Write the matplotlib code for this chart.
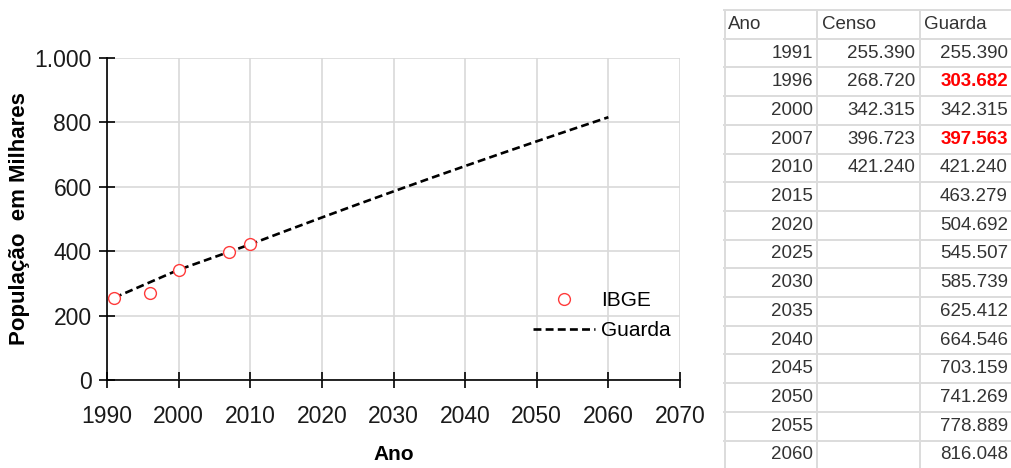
import matplotlib
matplotlib.use("Agg")
import matplotlib.pyplot as plt
from matplotlib.lines import Line2D

# ---- data ----
anos_censo = [1991, 1996, 2000, 2007, 2010]
censo = [255.390, 268.720, 342.315, 396.723, 421.240]

anos_guarda = [1991, 1996, 2000, 2007, 2010, 2015, 2020, 2025, 2030,
               2035, 2040, 2045, 2050, 2055, 2060]
guarda = [255.390, 303.682, 342.315, 397.563, 421.240, 463.279, 504.692,
          545.507, 585.739, 625.412, 664.546, 703.159, 741.269, 778.889, 816.048]
guarda_destaque = [1996, 2007]  # valores em vermelho na tabela

x_ticks = list(range(1990, 2071, 10))
y_ticks = [0, 200, 400, 600, 800, 1000]
y_labels = ["0", "200", "400", "600", "800", "1.000"]

plt.rcParams["font.family"] = ["Liberation Sans", "DejaVu Sans"]

fig = plt.figure(figsize=(10.11, 4.68), dpi=100)

# ---- grafico ----
ax = fig.add_axes([107 / 1011, 1 - 380 / 468, 573 / 1011, 322 / 468])
ax.plot(anos_guarda, guarda, color="black", linestyle=(0, (3, 1.6)),
        linewidth=1.9, label="Guarda", zorder=3)
ax.plot(anos_censo, censo, linestyle="none", marker="o", markersize=8.5,
        markerfacecolor="white", markeredgecolor="#ff3b3b", markeredgewidth=1.0,
        label="IBGE", zorder=4)

ax.set_xlim(1990, 2070)
ax.set_ylim(0, 1000)
ax.set_xticks(x_ticks)
ax.set_yticks(y_ticks)
ax.set_yticklabels(y_labels)
ax.grid(True, color="#d9d9d9", linewidth=1.2)
ax.set_axisbelow(True)
for s in ["top", "right"]:
    ax.spines[s].set_visible(False)
for s in ["left", "bottom"]:
    ax.spines[s].set_linewidth(1.2)
ax.tick_params(direction="inout", length=12, width=1.2, labelsize=16.5,
               labelcolor="#1a1a1a")
ax.tick_params(axis="x", pad=12)
ax.tick_params(axis="y", pad=5)
ax.set_xlabel("Ano", fontsize=15, fontweight="bold", labelpad=12)
ax.set_ylabel("População  em Milhares", fontsize=16, fontweight="bold", labelpad=3)

handles = [
    Line2D([], [], linestyle="none", marker="o", markersize=8.5,
           markerfacecolor="white", markeredgecolor="#ff3b3b", markeredgewidth=1.0),
    Line2D([], [], color="black", linestyle=(0, (3, 1.6)), linewidth=1.9),
]
ax.legend(handles, ["IBGE", "Guarda"], frameon=False, fontsize=15,
          loc="center left", bbox_to_anchor=(0.71, 0.20), handlelength=3.0,
          handletextpad=0.3, labelspacing=0.55)

# ---- tabela (coordenadas em pixels) ----
tb = fig.add_axes([722 / 1011, 0, 289 / 1011, 1])
tb.set_xlim(722, 1011)
tb.set_ylim(468, 0)
tb.axis("off")

row_h = 28.7
top = 10
n_rows = len(anos_guarda) + 1
line_c = "#dcdcdc"
for i in range(n_rows + 1):
    y = top + i * row_h
    tb.plot([724, 1011], [y, y], color=line_c, linewidth=1.4, clip_on=False)
for x in [725, 817, 920]:
    tb.plot([x, x], [top, 468], color=line_c, linewidth=1.4)

txt_c = "#333333"
fs = 13.5
fam = ["Liberation Sans Narrow", "Liberation Sans", "DejaVu Sans"]
yc = top + row_h / 2
tb.text(728, yc, "Ano", ha="left", va="center", fontsize=fs, color=txt_c, family=fam)
tb.text(822, yc, "Censo", ha="left", va="center", fontsize=fs, color=txt_c, family=fam)
tb.text(924, yc, "Guarda", ha="left", va="center", fontsize=fs, color=txt_c, family=fam)

def fmt(v):
    return f"{v:.3f}"

for i, ano in enumerate(anos_guarda):
    yc = top + (i + 1) * row_h + row_h / 2
    tb.text(813, yc, str(ano), ha="right", va="center", fontsize=fs, color=txt_c, family=fam)
    if ano in anos_censo:
        v = censo[anos_censo.index(ano)]
        tb.text(915, yc, fmt(v), ha="right", va="center", fontsize=fs, color=txt_c, family=fam)
    if ano in guarda_destaque:
        tb.text(1008, yc, fmt(guarda[i]), ha="right", va="center", fontsize=fs,
                color="#ff0000", fontweight="bold", family=fam)
    else:
        tb.text(1008, yc, fmt(guarda[i]), ha="right", va="center", fontsize=fs,
                color=txt_c, family=fam)

fig.savefig("out.png", dpi=100)
